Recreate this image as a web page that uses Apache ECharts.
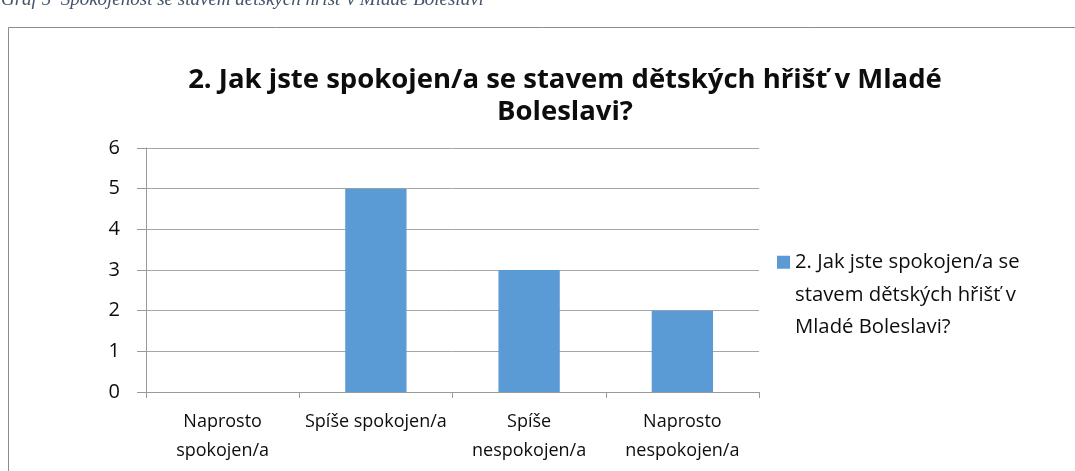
<!DOCTYPE html>
<html>
<head>
<meta charset="utf-8">
<script src="https://cdn.jsdelivr.net/npm/echarts@6/dist/echarts.min.js"></script>
<style>
html,body{margin:0;padding:0;background:#fff;}
#c{width:1075px;height:471px;}
</style>
</head>
<body>
<div id="c"></div>
<script>
const caption = 'Graf 5  Spokojenost se stavem dětských hřišť v Mladé Boleslavi';
const chartTitle = '2. Jak jste spokojen/a se stavem dětských hřišť v Mladé\nBoleslavi?';
const seriesName = '2. Jak jste spokojen/a se stavem dětských hřišť v Mladé Boleslavi?';
const legendLabel = '2. Jak jste spokojen/a se\nstavem dětských hřišť v\nMladé Boleslavi?';
const categories = ['Naprosto\nspokojen/a', 'Spíše spokojen/a', 'Spíše\nnespokojen/a', 'Naprosto\nnespokojen/a'];
const values = [0, 5, 3, 2];
const yTicks = [0, 1, 2, 3, 4, 5, 6];

const chart = echarts.init(document.getElementById('c'), null, {renderer: 'canvas'});
const FONT = '"Open Sans", "Noto Sans", sans-serif';
chart.setOption({
  animation: false,
  backgroundColor: '#fff',
  graphic: [
    {type: 'rect', x: 8, y: 27, shape: {x: 0.5, y: 0.5, width: 1200, height: 600},
     style: {fill: 'none', stroke: '#8c8c8c', lineWidth: 1}, silent: true},
    {type: 'text', x: 1, y: 9, style: {text: caption, fill: '#44546a',
      font: 'italic 19px "Liberation Serif", serif', verticalAlign: 'bottom', align: 'left'}}
  ],
  title: {
    text: chartTitle,
    left: 565, top: 64, textAlign: 'center', padding: 0,
    textStyle: {fontFamily: FONT, fontWeight: 'bold', fontSize: 27.5, lineHeight: 32, color: '#0d0d0d'}
  },
  legend: {
    left: 777, top: 181, padding: 0,
    itemWidth: 13, itemHeight: 13, itemGap: 8,
    icon: 'rect',
    data: [seriesName],
    formatter: function () { return '\n\n' + legendLabel; },
    textStyle: {fontFamily: FONT, fontSize: 20.3, lineHeight: 32.5, color: '#0d0d0d'}
  },
  grid: {left: 146, right: 316, top: 148, bottom: 79, containLabel: false},
  xAxis: {
    type: 'category', data: categories,
    axisLine: {lineStyle: {color: '#9a9a9a', width: 1}},
    axisTick: {show: true, length: 6, lineStyle: {color: '#9a9a9a'}},
    axisLabel: {fontFamily: FONT, fontSize: 18, lineHeight: 29, color: '#0d0d0d', margin: 15, interval: 0}
  },
  yAxis: {
    type: 'value', min: yTicks[0], max: yTicks[yTicks.length - 1], interval: 1,
    axisLine: {show: true, lineStyle: {color: '#9a9a9a', width: 1}},
    axisTick: {show: true, length: 9, lineStyle: {color: '#9a9a9a'}},
    axisLabel: {fontFamily: FONT, fontSize: 20, color: '#0d0d0d', margin: 26},
    splitLine: {lineStyle: {color: '#a6a6a6', width: 1}}
  },
  series: [{
    name: seriesName, type: 'bar', data: values,
    barCategoryGap: '60%',
    itemStyle: {color: '#5b9bd5'}
  }]
});
</script>
</body>
</html>
